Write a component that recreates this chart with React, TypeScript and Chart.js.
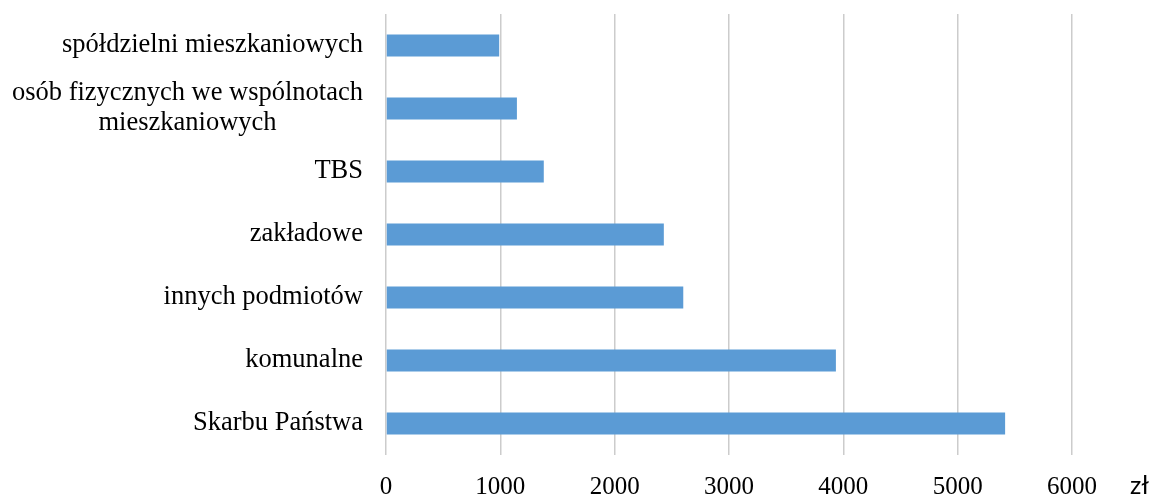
import { useEffect, useRef } from 'react';
import { Chart, registerables } from 'chart.js';

Chart.register(...registerables);

// Category names, top to bottom; "\n" marks a line break in the label.
const categories = [
  'spółdzielni mieszkaniowych',
  'osób fizycznych we wspólnotach\nmieszkaniowych',
  'TBS',
  'zakładowe',
  'innych podmiotów',
  'komunalne',
  'Skarbu Państwa',
];

// Amounts in zł for each category.
const values = [990, 1145, 1380, 2430, 2600, 3935, 5415];

// Value axis range and unit.
const axisMin = 0;
const axisMax = 6000;
const axisStep = 1000;
const unitLabel = 'zł';

const SERIF = '"Liberation Serif", "Times New Roman", serif';
const TEXT_COLOR = '#000000';

// Draws the category labels (multi-line ones centred on their widest line)
// and the currency unit at the end of the value axis.
const labelsPlugin = {
  id: 'categoryLabels',
  afterDraw(chart: any) {
    const { ctx, chartArea, scales } = chart;
    const yScale = scales.y;
    const xScale = scales.x;
    ctx.save();
    ctx.fillStyle = TEXT_COLOR;
    ctx.font = `26.5px ${SERIF}`;
    ctx.textAlign = 'center';
    ctx.textBaseline = 'middle';
    const right = chartArea.left - 23;
    const lineHeight = 30;
    categories.forEach((label, i) => {
      const lines = label.split('\n');
      const w = Math.max(...lines.map((l) => ctx.measureText(l).width));
      const cx = right - w / 2;
      const cy = yScale.getPixelForTick(i);
      lines.forEach((line, j) => {
        ctx.fillText(line, cx, cy + (j - (lines.length - 1) / 2) * lineHeight);
      });
    });

    ctx.font = '25px Lato, "Open Sans", sans-serif';
    ctx.textAlign = 'left';
    ctx.textBaseline = 'alphabetic';
    ctx.fillText(unitLabel, xScale.getPixelForValue(axisMax) + 58, chartArea.bottom + 39);
    ctx.restore();
  },
};

export default function App() {
  const canvasRef = useRef<HTMLCanvasElement | null>(null);

  useEffect(() => {
    const canvas = canvasRef.current;
    if (!canvas) return;
    const chart = new Chart(canvas, {
      type: 'bar',
      data: {
        labels: categories,
        datasets: [
          {
            data: values,
            backgroundColor: '#5B9BD5',
            borderWidth: 0,
            barPercentage: 0.35,
            categoryPercentage: 1,
          },
        ],
      },
      options: {
        indexAxis: 'y',
        responsive: false,
        animation: false,
        layout: { padding: { top: 14, right: 77, left: 0, bottom: 0 } },
        plugins: {
          legend: { display: false },
          tooltip: { enabled: false },
        },
        scales: {
          x: {
            min: axisMin,
            max: axisMax,
            ticks: {
              stepSize: axisStep,
              color: TEXT_COLOR,
              font: { family: SERIF, size: 25 },
              padding: 17,
              maxRotation: 0,
              autoSkip: false,
              callback: (v: any) => String(v),
            },
            grid: { color: '#cccccc', lineWidth: 1.5, drawTicks: false },
            border: { display: false },
            afterFit: (s: any) => {
              s.height = 40;
            },
          },
          y: {
            ticks: { display: false },
            grid: { display: false },
            border: { display: false },
            afterFit: (s: any) => {
              s.width = 386;
            },
          },
        },
      },
      plugins: [labelsPlugin],
    });
    return () => chart.destroy();
  }, []);

  return (
    <div style={{ position: 'fixed', left: 0, top: 0, width: 1149, height: 495, background: '#fff' }}>
      <canvas ref={canvasRef} width={1149} height={495} />
    </div>
  );
}
